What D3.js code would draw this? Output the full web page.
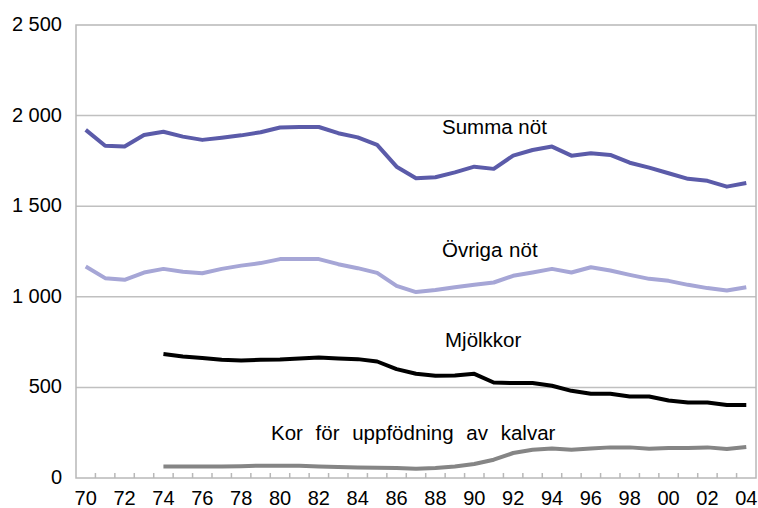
<!DOCTYPE html>
<html>
<head>
<meta charset="utf-8">
<script src="https://cdn.jsdelivr.net/npm/d3@7"></script>
<style>
  body { margin: 0; background: #fff; }
  text { font-family: "Liberation Sans", Arial, sans-serif; fill: #000; }
</style>
</head>
<body>
<div id="chart"></div>
<script>
// years 1970-2004, shown as two digits
var years = ["70","71","72","73","74","75","76","77","78","79","80","81","82","83","84","85","86","87","88","89",
             "90","91","92","93","94","95","96","97","98","99","00","01","02","03","04"];
var tickLabels = ["70","72","74","76","78","80","82","84","86","88","90","92","94","96","98","00","02","04"];
var yTicks = [0, 500, 1000, 1500, 2000, 2500];

var summaNot = [1921,1834,1829,1893,1911,1884,1866,1878,1891,1908,1934,1937,1937,1903,1880,1838,1718,1654,1660,1687,
                1718,1706,1779,1810,1829,1779,1792,1783,1740,1713,1682,1651,1640,1608,1628];
var ovrigaNot = [1167,1103,1094,1134,1154,1138,1130,1154,1172,1186,1208,1208,1208,1180,1158,1132,1060,1026,1038,1053,
                 1066,1079,1116,1134,1154,1134,1163,1145,1121,1099,1088,1066,1048,1035,1053];
var mjolkkor = [null,null,null,null,684,671,662,652,649,652,654,660,665,660,656,643,601,575,564,566,
                575,527,524,524,509,481,465,465,450,450,428,417,417,403,403];
var korKalvar = [null,null,null,null,64,64,64,64,65,68,67,67,64,61,58,57,55,51,55,64,
                 77,101,138,156,163,156,163,169,169,161,165,165,169,160,171];

var width = 758, height = 508;
var margin = { top: 25, left: 76, bottom: 30, right: 2 };

var svg = d3.select("#chart").append("svg")
   .attr("width", width)
   .attr("height", height);

var x = d3.scaleBand()
   .domain(years)
   .range([margin.left, width - margin.right]);

var y = d3.scaleLinear()
   .domain([0, 2500])
   .range([height - margin.bottom, margin.top]);

// gridlines
svg.append("g")
   .selectAll("line")
   .data(yTicks.slice(1, 5))
   .enter().append("line")
   .attr("x1", margin.left).attr("x2", width - margin.right)
   .attr("y1", function (d) { return y(d); })
   .attr("y2", function (d) { return y(d); })
   .attr("stroke", "#c0c0c0")
   .attr("stroke-width", 1.5);

// plot frame
svg.append("rect")
   .attr("x", margin.left).attr("y", margin.top)
   .attr("width", width - margin.right - margin.left)
   .attr("height", height - margin.bottom - margin.top)
   .attr("fill", "none")
   .attr("stroke", "#b8b8b8")
   .attr("stroke-width", 1.5);

// y labels
svg.append("g")
   .selectAll("text")
   .data(yTicks)
   .enter().append("text")
   .attr("x", 62)
   .attr("y", function (d) { return y(d) + 6; })
   .attr("text-anchor", "end")
   .attr("font-size", "20px")
   .text(function (d) { return d >= 1000 ? Math.floor(d / 1000) + " " + d3.format("03d")(d % 1000) : d; });

// x tick marks at band boundaries, pointing up
svg.append("g")
   .selectAll("line")
   .data(years.slice(1))
   .enter().append("line")
   .attr("x1", function (d) { return x(d); })
   .attr("x2", function (d) { return x(d); })
   .attr("y1", y(0))
   .attr("y2", y(0) - 5)
   .attr("stroke", "#b8b8b8")
   .attr("stroke-width", 1.5);

// x labels
svg.append("g")
   .selectAll("text")
   .data(tickLabels)
   .enter().append("text")
   .attr("x", function (d) { return x(d) + x.bandwidth() / 2; })
   .attr("y", 505)
   .attr("text-anchor", "middle")
   .attr("font-size", "20px")
   .text(function (d) { return d; });

var line = d3.line()
   .defined(function (d) { return d != null; })
   .x(function (d, i) { return x(years[i]) + x.bandwidth() / 2; })
   .y(function (d) { return y(d); });

var series = [
   { values: summaNot, color: "#5b5ba9" },
   { values: ovrigaNot, color: "#a6a6d6" },
   { values: mjolkkor, color: "#000000" },
   { values: korKalvar, color: "#858585" }
];

svg.append("g")
   .selectAll("path")
   .data(series)
   .enter().append("path")
   .attr("d", function (d) { return line(d.values); })
   .attr("fill", "none")
   .attr("stroke", function (d) { return d.color; })
   .attr("stroke-width", 4)
   .attr("stroke-linejoin", "round");

// series labels
var labels = [
   { text: "Summa nöt", x: 442, y: 134, ws: 0 },
   { text: "Övriga nöt", x: 442, y: 257, ws: 1 },
   { text: "Mjölkkor", x: 445, y: 347, ws: 0 },
   { text: "Kor för uppfödning av kalvar", x: 271, y: 440, ws: 7 }
];

svg.append("g")
   .selectAll("text")
   .data(labels)
   .enter().append("text")
   .attr("x", function (d) { return d.x; })
   .attr("y", function (d) { return d.y; })
   .attr("font-size", "20.5px")
   .attr("word-spacing", function (d) { return d.ws + "px"; })
   .text(function (d) { return d.text; });
</script>
</body>
</html>
